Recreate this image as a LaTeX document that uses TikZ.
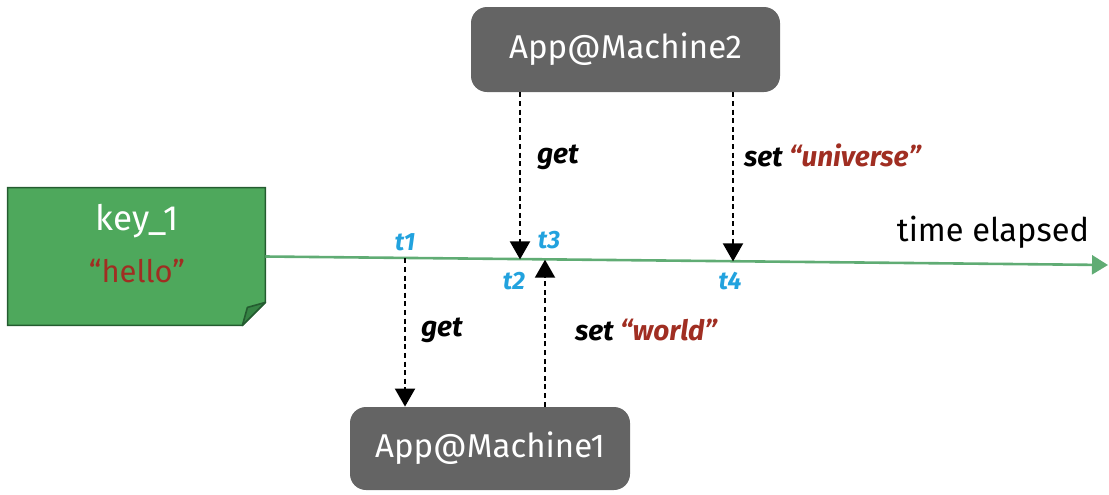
\documentclass[tikz,border=0pt]{standalone}
\usepackage{fontspec}
\setmainfont{Fira Sans}
\usetikzlibrary{arrows.meta,positioning}
\definecolor{keyGreen}{RGB}{78,168,92}
\definecolor{keyGreenDark}{RGB}{36,92,48}
\definecolor{foldGreen}{RGB}{54,132,68}
\definecolor{lineGreen}{RGB}{96,172,116}
\definecolor{appGray}{RGB}{100,100,100}
\definecolor{valRed}{RGB}{160,46,34}
\definecolor{tickBlue}{RGB}{34,162,222}

\begin{document}
\begin{tikzpicture}[x=0.5pt,y=-0.5pt,
  appbox/.style={rectangle, rounded corners=8pt, fill=appGray, text=white,
    font=\fontsize{16.5}{20}\selectfont, inner sep=0pt},
  call/.style={black, line width=1pt, dash pattern=on 2.5pt off 1.8pt,
    -{Triangle[length=9pt,width=10pt]}},
  lbl/.style={anchor=west, font=\fontsize{14}{17}\selectfont\bfseries\itshape},
  tick/.style={text=tickBlue, font=\fontsize{12.5}{15}\selectfont\bfseries\itshape},
  axisline/.style={lineGreen, line width=1.3pt, -{Triangle[length=8pt,width=9.5pt]}}]
\useasboundingbox (0,0) rectangle (1109,494);

% the key as a note
\node[minimum width=128.5pt, minimum height=68.5pt, inner sep=0pt] (key) at (136.5,256.5) {};
\draw[keyGreenDark, fill=keyGreen, line width=0.8pt]
  (key.north west) -- (key.north east) -- ([yshift=11.5pt]key.south east)
  -- ([xshift=-11.5pt]key.south east) -- (key.south west) -- cycle;
\draw[keyGreenDark, fill=foldGreen, line width=0.8pt, line join=round]
  ([yshift=11.5pt]key.south east) -- ([xshift=-11.5pt]key.south east)
  -- ([xshift=-9pt,yshift=9pt]key.south east) -- cycle;
\node[text=white, font=\fontsize{17.5}{20}\selectfont] (keyname) at (137,221) {key\_1};
\node[text=valRed, font=\fontsize{15.5}{18}\selectfont] (keyval) at (137,271) {“hello”};

% time line
\coordinate (tend) at (1108,265);
\coordinate (t1) at (405,258.3);
\coordinate (t2) at (520,259.4);
\coordinate (t3) at (545,259.7);
\coordinate (t4) at (733,261.4);
\draw[axisline] (key.east) -- (tend);
\node[font=\fontsize{16.3}{19}\selectfont] (elapsed) at (993,232) {time elapsed};

% the two apps
\node[appbox, minimum width=154.5pt, minimum height=42.5pt] (m2) at (625.5,49.5) {App@Machine2};
\node[appbox, minimum width=140pt, minimum height=41.5pt] (m1) at (490,448.5) {App@Machine1};

\draw[call] (t1) -- (t1 |- m1.north);
\draw[call] (t2 |- m2.south) -- (t2);
\draw[call] (t3 |- m1.north) -- (t3);
\draw[call] (t4 |- m2.south) -- (t4);

\node[lbl] (get1) at (414,330) {get};
\node[lbl] (get2) at (530,157) {get};
\node[lbl] (set1) at (568,330) {set \textcolor{valRed}{“world”}};
\node[lbl] (set2) at (737,155) {set \textcolor{valRed}{“universe”}};

\node[tick] (lt1) at (405,242) {t1};
\node[tick] (lt2) at (514,281) {t2};
\node[tick] (lt3) at (549,240) {t3};
\node[tick] (lt4) at (730,281) {t4};
\end{tikzpicture}
\end{document}
